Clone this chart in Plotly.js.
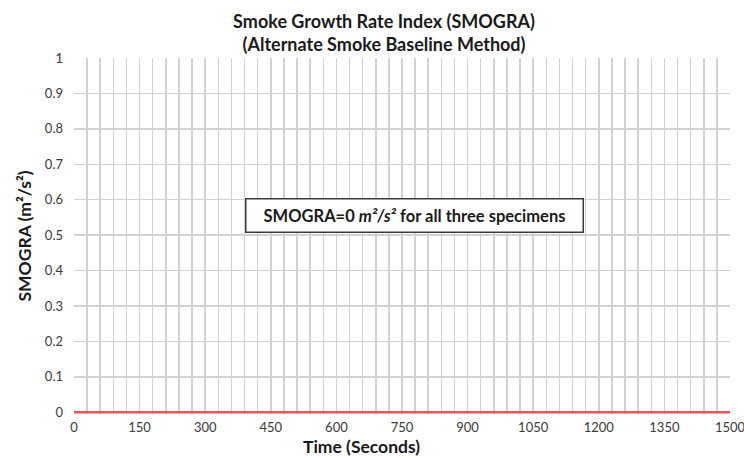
<!DOCTYPE html>
<html>
<head>
<meta charset="utf-8">
<script src="https://cdn.plot.ly/plotly-3.0.1.min.js"></script>
<style>html,body{margin:0;padding:0;background:#fff;}#chart{width:744px;height:458px;}</style>
</head>
<body>
<div id="chart"></div>
<script>
var timeSeconds = [0, 300, 600, 900, 1200, 1500];
var smogra = [0, 0, 0, 0, 0, 0];
var xTickVals = [0, 150, 300, 450, 600, 750, 900, 1050, 1200, 1350, 1500];
var yTickVals = [0, 0.1, 0.2, 0.3, 0.4, 0.5, 0.6, 0.7, 0.8, 0.9, 1];
var yTickText = ["0", "0.1", "0.2", "0.3", "0.4", "0.5", "0.6", "0.7", "0.8", "0.9", "1"];

var fontFam = "Lato, 'Open Sans', sans-serif";
var gridCol = "#d2d2d2";

var traces = [{
  x: timeSeconds, y: smogra, mode: "lines", type: "scatter",
  line: {color: "#e05a5a", width: 2.5}, hoverinfo: "none"
}];

var layout = {
  width: 744, height: 458,
  margin: {l: 74, r: 14, t: 58, b: 44},
  paper_bgcolor: "#fff", plot_bgcolor: "#fff",
  showlegend: false,
  font: {family: fontFam, color: "#404040"},
  title: {
    text: "<b>Smoke Growth Rate Index (SMOGRA)</b><br><b>(Alternate Smoke Baseline Method)</b>",
    xref: "paper", x: 0.4726, xanchor: "center",
    yref: "container", y: 1 - 28 / 458, yanchor: "top",
    font: {family: fontFam, size: 18, color: "#1a1a1a"}
  },
  xaxis: {
    range: [0, 1500],
    tickvals: xTickVals, ticktext: xTickVals.map(String),
    showgrid: true, gridcolor: gridCol, gridwidth: 1.5,
    zeroline: false, showline: false, ticks: "",
    ticklabelstandoff: 4, ticklabeloverflow: "allow",
    tickfont: {family: fontFam, size: 13, color: "#3a3a3a"},
    minor: {dtick: 30, tick0: 0, showgrid: true, gridcolor: gridCol, gridwidth: 1.5}
  },
  yaxis: {
    range: [-0.005, 1], tickvals: yTickVals, ticktext: yTickText,
    showgrid: true, gridcolor: gridCol, gridwidth: 1.5,
    zeroline: false, showline: false, ticks: "",
    ticklabelstandoff: 10,
    tickfont: {family: fontFam, size: 13, color: "#3a3a3a"},
    title: {text: "<b>SMOGRA (m²/s²)</b>", font: {family: fontFam, size: 17.5, color: "#1a1a1a"}, standoff: 8}
  },
  annotations: [{
    xref: "paper", yref: "paper", x: 0.5198, y: 0.5576, xanchor: "center", yanchor: "middle",
    text: "<b>SMOGRA=0 <i>m²/s²</i> for all three specimens</b>",
    showarrow: false, bgcolor: "#fff", bordercolor: "#3a3a3a", borderwidth: 1.5, borderpad: 1,
    width: 334, height: 30, align: "center",
    font: {family: fontFam, size: 16.5, color: "#1a1a1a"}
  }, {
    xref: "paper", yref: "paper", x: (361 - 74) / 656, y: -(446 - 414) / 356,
    xanchor: "center", yanchor: "middle", showarrow: false,
    text: "<b>Time (Seconds)</b>",
    font: {family: fontFam, size: 17.5, color: "#1a1a1a"}
  }]
};

Plotly.newPlot("chart", traces, layout, {staticPlot: true, displayModeBar: false});
</script>
</body>
</html>
